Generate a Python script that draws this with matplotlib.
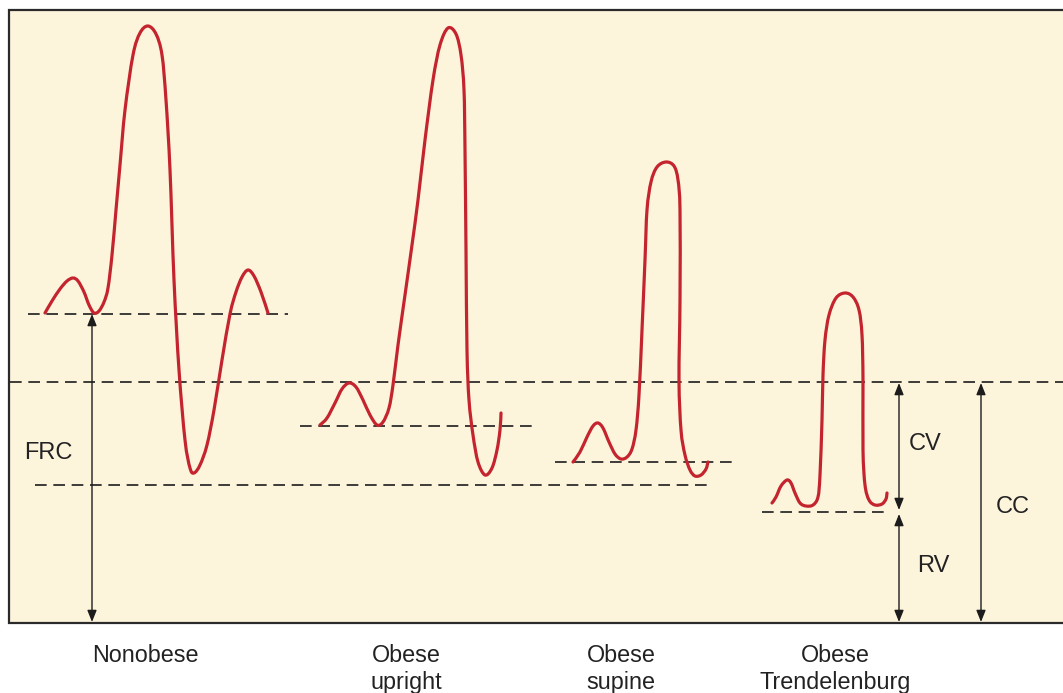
import matplotlib
matplotlib.use("Agg")
import matplotlib.pyplot as plt
from matplotlib.path import Path
from matplotlib.patches import PathPatch, Rectangle
import numpy as np

plt.rcParams['font.family'] = ['Liberation Sans', 'DejaVu Sans']

# ---- data (pixel coordinates, y grows downward) ----
categories = ["Nonobese", "Obese\nupright", "Obese\nsupine", "Obese\nTrendelenburg"]
category_x = [145, 406, 621, 835]

trace_nonobese = [(45, 313), (52, 301), (60, 289), (67, 281), (73, 278), (78, 281),
                  (84, 292), (89, 305), (94, 313), (99, 311), (104, 302), (108, 288),
                  (112, 255), (116, 210), (120, 165), (125, 110), (133, 55), (140, 33),
                  (148, 26), (156, 34), (162, 55), (166, 100), (170, 170), (174, 280),
                  (179, 370), (185, 440), (190, 468), (194, 473), (200, 465), (207, 445),
                  (214, 410), (222, 360), (230, 314), (236, 292), (242, 277), (248, 270),
                  (254, 276), (261, 292), (268, 313)]
trace_upright = [(320, 425), (327, 418), (335, 403), (342, 389), (349, 383), (356, 387),
                 (363, 400), (370, 415), (377, 425), (383, 422), (389, 408), (393, 385),
                 (398, 345), (405, 295), (412, 245), (418, 200), (425, 140), (433, 80),
                 (440, 45), (448, 28), (456, 34), (461, 55), (464, 90), (465, 150),
                 (466, 250), (467, 350), (469, 400), (473, 435), (478, 462), (485, 475),
                 (492, 468), (497, 450), (500, 430), (501, 413)]
trace_supine = [(573, 462), (580, 452), (587, 437), (593, 426), (598, 423), (603, 428),
                (609, 442), (615, 454), (621, 459), (627, 457), (632, 449), (636, 430),
                (639, 395), (642, 330), (645, 260), (647, 210), (651, 182), (657, 167),
                (666, 162), (674, 166), (678, 180), (680, 210), (680, 300), (679, 380),
                (681, 430), (685, 455), (690, 470), (695, 476), (701, 475), (706, 469),
                (708, 462)]
trace_trend = [(772, 503), (776, 497), (781, 486), (787, 480), (791, 483), (795, 493),
               (800, 503), (806, 506), (813, 505), (818, 497), (820, 475), (822, 420),
               (823, 375), (825, 340), (829, 315), (836, 298), (845, 293), (853, 297),
               (859, 310), (862, 335), (863, 380), (863, 450), (865, 485), (869, 500),
               (875, 505), (882, 504), (886, 499), (887, 493)]

# dashed reference lines: (y, x_start, x_end)
dashed_lines = [(314, 28, 288),     # nonobese FRC
                (382, 10, 1063),    # closing capacity
                (485, 35, 708),     # lower reference
                (426, 300, 535),    # obese upright FRC
                (462, 555, 735),    # obese supine FRC
                (512, 762, 890)]    # Trendelenburg / RV

# double arrows: (x, y_top, y_bottom)
arrows = [(92, 314, 622), (899, 383, 510), (899, 514, 622), (981, 383, 622)]
arrow_labels = [("FRC", 48, 453), ("CV", 925, 444), ("RV", 933, 566), ("CC", 1013, 507)]

RED = '#c4242e'
INK = '#1c1c1c'
BG = '#fdf4dc'


def smooth_path(pts):
    p = np.array(pts, dtype=float)
    p_ext = np.vstack([p[0], p, p[-1]])
    verts = [tuple(p[0])]
    codes = [Path.MOVETO]
    for i in range(1, len(p_ext) - 2):
        p0, p1, p2, p3 = p_ext[i - 1], p_ext[i], p_ext[i + 1], p_ext[i + 2]
        c1 = p1 + (p2 - p0) / 6.0
        c2 = p2 - (p3 - p1) / 6.0
        verts += [tuple(c1), tuple(c2), tuple(p2)]
        codes += [Path.CURVE4] * 3
    return Path(verts, codes)


fig = plt.figure(figsize=(10.63, 6.93), dpi=100)
ax = fig.add_axes([0, 0, 1, 1])
ax.set_xlim(0, 1063)
ax.set_ylim(693, 0)
ax.axis('off')

ax.add_patch(Rectangle((9, 10), 1070, 613, facecolor=BG, edgecolor='#2a2a2a', lw=1.6, zorder=0))

for y, x0, x1 in dashed_lines:
    ax.plot([x0, x1], [y, y], color=INK, lw=1.2, dashes=(7, 4), zorder=2)

for tr in [trace_nonobese, trace_upright, trace_supine, trace_trend]:
    ax.add_patch(PathPatch(smooth_path(tr), facecolor='none', edgecolor=RED, lw=2.3,
                           capstyle='round', joinstyle='round', zorder=3))

for x, y0, y1 in arrows:
    ax.annotate('', xy=(x, y1), xytext=(x, y0),
                arrowprops=dict(arrowstyle='<|-|>,head_length=0.7,head_width=0.28',
                                mutation_scale=10, color=INK, lw=1.0,
                                shrinkA=0, shrinkB=0), zorder=4)

for txt, x, y in arrow_labels:
    ax.text(x, y, txt, ha='center', va='center', fontsize=17, color='#222222')

for lab, x in zip(categories, category_x):
    ax.text(x, 644, lab, ha='center', va='top', fontsize=16.8, color='#222222', linespacing=1.2)

fig.savefig('out.png', dpi=100, facecolor='white')
